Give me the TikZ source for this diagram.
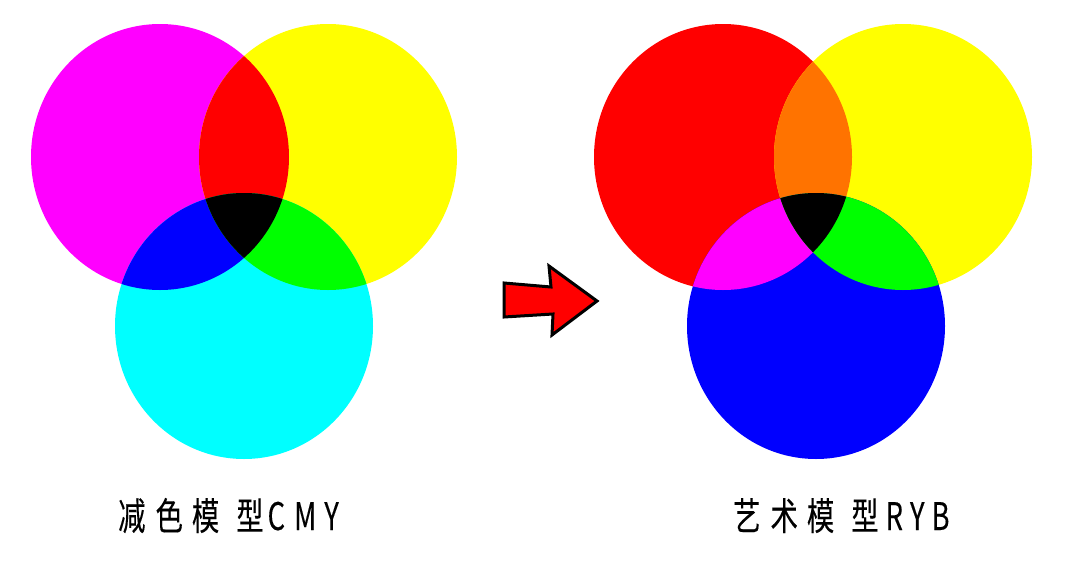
\documentclass[tikz,border=0pt]{standalone}
\usepackage{fontspec}
\newfontfamily\cjk[FakeStretch=0.72,FakeBold=0.2]{Noto Sans CJK SC}
\definecolor{pureM}{RGB}{255,0,255}
\definecolor{pureY}{RGB}{255,255,0}
\definecolor{pureC}{RGB}{0,255,255}
\definecolor{pureR}{RGB}{255,0,0}
\definecolor{pureG}{RGB}{0,255,0}
\definecolor{pureB}{RGB}{0,0,255}
\definecolor{rybOrange}{RGB}{255,115,0}
% circles of the CMY model
\def\cmyM{(160,157) ellipse [x radius=129, y radius=133]}
\def\cmyY{(328,157) ellipse [x radius=129, y radius=133]}
\def\cmyC{(244,326) ellipse [x radius=129, y radius=133]}
% circles of the RYB model
\def\rybR{(723,157) ellipse [x radius=129, y radius=133]}
\def\rybY{(903,157) ellipse [x radius=129, y radius=133]}
\def\rybB{(816,326) ellipse [x radius=129, y radius=133]}
\tikzset{
  caption/.style={anchor=base west, inner sep=0pt, font=\cjk\fontsize{38}{38}\selectfont},
  bigarrow/.style={draw=black, fill=pureR, line width=3pt, line join=miter}
}
\begin{document}
\begin{tikzpicture}[x=1pt,y=-1pt]
\useasboundingbox (0,0) rectangle (1080,568);
% CMY
\fill[pureM] \cmyM;
\fill[pureY] \cmyY;
\fill[pureC] \cmyC;
\begin{scope} \clip \cmyM; \fill[pureR] \cmyY; \end{scope}
\begin{scope} \clip \cmyM; \fill[pureB] \cmyC; \end{scope}
\begin{scope} \clip \cmyY; \fill[pureG] \cmyC; \end{scope}
\begin{scope} \clip \cmyM; \clip \cmyY; \fill[black] \cmyC; \end{scope}
% RYB
\fill[pureR] \rybR;
\fill[pureY] \rybY;
\fill[pureB] \rybB;
\begin{scope} \clip \rybR; \fill[rybOrange] \rybY; \end{scope}
\begin{scope} \clip \rybR; \fill[pureM] \rybB; \end{scope}
\begin{scope} \clip \rybY; \fill[pureG] \rybB; \end{scope}
\begin{scope} \clip \rybR; \clip \rybY; \fill[black] \rybB; \end{scope}
% arrow
\draw[bigarrow] (504,283) -- (551,287) -- (549,266) -- (597,301)
   -- (552,335) -- (553,314) -- (504,317) -- cycle;
% captions
\node[caption] (cmytext) at (118,530)
   {减\hspace{10pt}色\hspace{9pt}模\hspace{17pt}型\hspace{4pt}C\hspace{9pt}M\hspace{8pt}Y};
\node[caption] (rybtext) at (733,530)
   {艺\hspace{10pt}术\hspace{9pt}模\hspace{17pt}型\hspace{7pt}R\hspace{7pt}Y\hspace{7pt}B};
\end{tikzpicture}
\end{document}
